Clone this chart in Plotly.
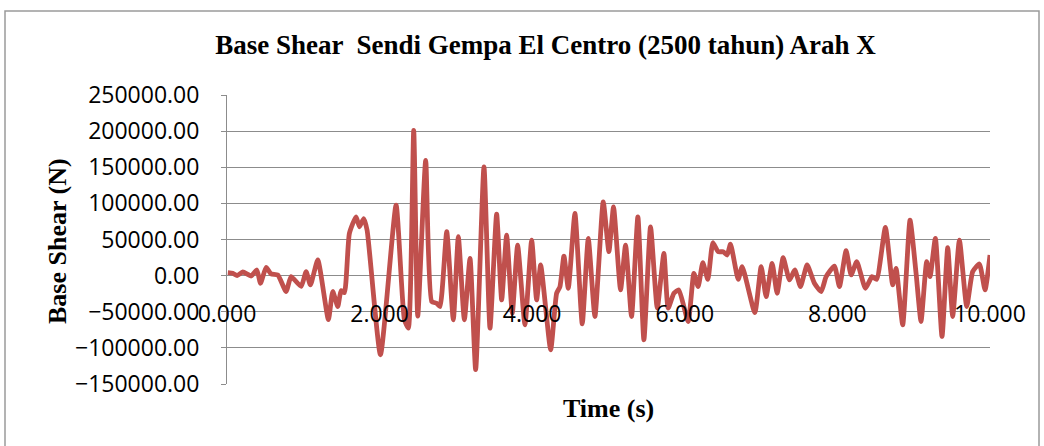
import plotly.graph_objects as go

title_text = "Base Shear  Sendi Gempa El Centro (2500 tahun) Arah X"
x_title = "Time (s)"
y_title = "Base Shear (N)"

time_s = [0.011, 0.076, 0.133, 0.207, 0.316, 0.391, 0.439, 0.513, 0.578, 0.666,
          0.775, 0.840, 0.971, 1.037, 1.093, 1.190, 1.329, 1.386, 1.452, 1.495,
          1.539, 1.604, 1.692, 1.736, 1.792, 1.836, 2.011, 2.216, 2.325, 2.377,
          2.447, 2.500, 2.604, 2.683, 2.748, 2.792, 2.880, 2.966, 3.032, 3.111,
          3.185, 3.259, 3.368, 3.447, 3.534, 3.600, 3.665, 3.739, 3.809, 3.905,
          3.993, 4.058, 4.111, 4.242, 4.320, 4.364, 4.416, 4.473, 4.560, 4.656,
          4.735, 4.822, 4.931, 5.005, 5.066, 5.158, 5.224, 5.302, 5.385, 5.464,
          5.551, 5.639, 5.726, 5.782, 5.857, 5.922, 6.044, 6.119, 6.175, 6.236,
          6.302, 6.368, 6.437, 6.503, 6.555, 6.599, 6.700, 6.752, 6.918, 7.001,
          7.066, 7.145, 7.210, 7.289, 7.372, 7.442, 7.516, 7.603, 7.699, 7.787,
          7.852, 7.961, 8.027, 8.114, 8.180, 8.254, 8.367, 8.454, 8.515, 8.629,
          8.725, 8.769, 8.856, 8.952, 9.031, 9.096, 9.170, 9.214, 9.284, 9.371,
          9.446, 9.511, 9.599, 9.695, 9.773, 9.861, 9.935, 10.000]

base_shear = [4100, 3200, 0, 5000, -500, 7800, -10600, 11500, 2300, 900,
              -22000, -1400, -15000, 5500, -12900, 21600, -61000, -22000, -42800, -20700,
              -23500, 58400, 81400, 67600, 79000, 63000, -109500, 97500, -61000, -72700,
              201000, -56000, 159600, -35900, -38200, -42800, 60700, -61200, 53800, -61200,
              23900, -130200, 150400, -72700, 85100, -33600, 56100, -52000, 42300, -68100,
              49200, -33600, 14700, -102600, -24400, -15200, 27100, -17500, 86000, -66700,
              51500, -56600, 102100, 33100, 95000, -19800, 42300, -56600, 81400, -88800,
              67600, -45000, 30800, -45100, -24400, -19800, -63500, 3200, -15200, 17900,
              -5100, 45500, 33100, 33100, 28500, 43700, -5100, 12400, -51100, 12400,
              -29000, 17000, -24400, 24800, -6000, 7800, -15200, 14700, -10600, -22100,
              -1400, 13300, -15200, 34500, 900, 19300, -17500, -1400, -5100, 66700,
              -12900, 10100, -68100, 76800, 3200, -63500, 19300, -1400, 51500, -84200,
              38600, -56600, 49200, -42800, 5500, 16100, -19800, 28500]

y_min, y_max, y_step = -150000, 250000, 50000
x_min, x_max, x_step = 0, 10, 2

W, H = 1044, 446
L, T, PW, PH = 227, 95, 763, 289
R, B = W - L - PW, H - T - PH

def px(xp):
    return (xp - L) / PW

def py(yp):
    return (T + PH - yp) / PH

grid = "#8c8c8c"
tick_font = dict(family="Open Sans", size=23, color="#000000")

fig = go.Figure()
fig.add_trace(go.Scatter(
    x=time_s, y=base_shear, mode="lines",
    line=dict(color="#C0504D", width=4.8, shape="spline", smoothing=0.5),
    showlegend=False, hoverinfo="x+y"))

pos0 = (0 - y_min) / (y_max - y_min)

fig.update_layout(
    width=W, height=H,
    margin=dict(l=L, r=R, t=T, b=B, pad=0),
    paper_bgcolor="#ffffff", plot_bgcolor="#ffffff",
    title=dict(text="<b>" + title_text + "</b>",
               font=dict(family="Liberation Serif", size=27, color="#000000"),
               x=545.5 / W, xanchor="center", xref="container",
               y=1 - 45 / H, yanchor="middle", yref="container"),
    xaxis=dict(range=[x_min, x_max], dtick=x_step, tick0=0, tickformat=".3f",
               anchor="free", position=pos0, showgrid=False, zeroline=False,
               showline=False, ticks="", tickfont=tick_font, ticklabelstandoff=22),
    yaxis=dict(range=[y_min, y_max], dtick=y_step, tick0=0, tickformat=".2f",
               showgrid=True, gridcolor=grid, gridwidth=1, zeroline=False,
               showline=True, linecolor=grid, linewidth=1,
               ticks="outside", ticklen=5, tickcolor=grid,
               tickfont=tick_font, ticklabelstandoff=17),
    annotations=[
        dict(text="<b>" + y_title + "</b>", textangle=-90, xref="paper", yref="paper",
             x=px(57), y=py(241), xanchor="center", yanchor="middle",
             showarrow=False, font=dict(family="Liberation Serif", size=26, color="#000000")),
        dict(text="<b>" + x_title + "</b>", xref="paper", yref="paper",
             x=px(608), y=py(408), xanchor="center", yanchor="middle",
             showarrow=False, font=dict(family="Liberation Serif", size=26, color="#000000")),
    ],
    shapes=[dict(type="rect", xref="paper", yref="paper",
                 x0=px(5), x1=px(1039), y0=py(470), y1=py(11),
                 line=dict(color="#9a9a9a", width=1.5), fillcolor="rgba(0,0,0,0)", layer="below")],
)

fig.write_html("out.html", config={"displayModeBar": False},
               post_script="document.body.style.margin='0';document.body.style.overflow='hidden';")
